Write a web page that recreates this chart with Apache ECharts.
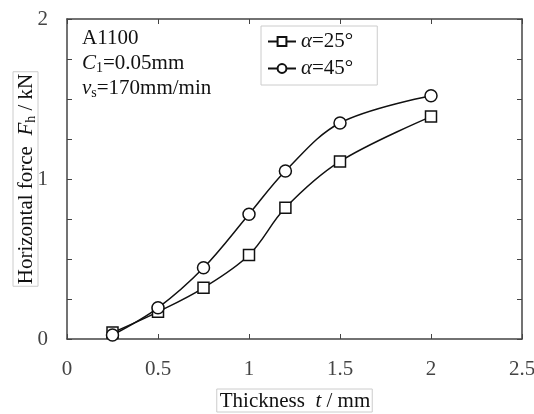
<!DOCTYPE html>
<html><head><meta charset="utf-8">
<script src="https://cdn.jsdelivr.net/npm/echarts@6/dist/echarts.min.js"></script>
<style>html,body{margin:0;padding:0;background:#fff}#c{width:534px;height:414px}</style>
</head><body><div id="c"></div>
<script>
var thickness = [0.25, 0.5, 0.75, 1.0, 1.2, 1.5, 2.0];
var force25 = [0.04, 0.17, 0.32, 0.525, 0.82, 1.11, 1.39];
var force45 = [0.025, 0.195, 0.445, 0.78, 1.05, 1.35, 1.52];
var xTicks = [0, 0.5, 1, 1.5, 2, 2.5];
var yTicks = [0, 1, 2];

function pairs(xs, ys){ return xs.map(function(x,i){return [x, ys[i]];}); }
var serif = 'Liberation Serif';
var F = 21;
var chart = echarts.init(document.getElementById('c'));
var axisCommon = {
  axisLine:{show:true, onZero:false, lineStyle:{color:'#444', width:1.5}},
  axisTick:{show:true, inside:true, length:5, lineStyle:{color:'#444'}},
  splitLine:{show:false}
};
chart.setOption({
  animation:false,
  grid:{left:67, right:12, top:19, bottom:75, containLabel:false, outerBoundsMode:'none'},
  legend:{
    orient:'vertical', left:261, top:26, itemWidth:28, itemHeight:11, itemGap:6,
    padding:[5,24,6,6], backgroundColor:'#fff', borderColor:'#ccc', borderWidth:1,
    textStyle:{fontFamily:serif, fontSize:F, color:'#111',
      rich:{i:{fontFamily:serif, fontStyle:'italic', fontSize:F, color:'#111'}}},
    formatter:function(n){return '{i|α}' + n.replace('α','');},
    data:['α=25°','α=45°']
  },
  xAxis:[Object.assign({type:'value', min:0, max:2.5, interval:0.5, position:'bottom',
    name:'Thickness  {i|t} / mm', nameLocation:'middle', nameGap:50, nameMoveOverlap:false,
    nameTextStyle:{fontFamily:serif, fontSize:F, color:'#111', borderColor:'#ccc', borderWidth:1, padding:[2,2,0,3],
      rich:{i:{fontFamily:serif, fontStyle:'italic', fontSize:F, color:'#111'}}},
    axisLabel:{fontFamily:serif, fontSize:F, color:'#444', margin:20,
      formatter:function(v){return xTicks.indexOf(v)>=0 ? String(v) : '';}}
  }, axisCommon),
  Object.assign({type:'value', min:0, max:2.5, interval:0.5, position:'top', axisLabel:{show:false}}, axisCommon)],
  yAxis:[Object.assign({type:'value', min:0, max:2, interval:0.25, position:'left',
    name:'Horizontal force  {i|F}{s|h} / kN', nameLocation:'middle', nameGap:29, nameMoveOverlap:false,
    nameTextStyle:{fontFamily:serif, fontSize:F, color:'#111', borderColor:'#ccc', borderWidth:1, padding:[2,2,0,2],
      rich:{i:{fontFamily:serif, fontStyle:'italic', fontSize:F, color:'#111'},
            s:{fontFamily:serif, fontSize:14, color:'#111', padding:[9,0,0,0]}}},
    axisLabel:{fontFamily:serif, fontSize:F, color:'#444', margin:19,
      formatter:function(v){return yTicks.indexOf(v)>=0 ? String(v) : '';}}
  }, axisCommon),
  Object.assign({type:'value', min:0, max:2, interval:0.25, position:'right', axisLabel:{show:false}}, axisCommon)],
  graphic:[{type:'text', left:82, top:26, style:{
    text:'A1100\n{i|C}{s|1}=0.05mm\n{i|v}{s|s}=170mm/min',
    fontFamily:serif, fontSize:F, lineHeight:25, fill:'#111',
    rich:{i:{fontFamily:serif, fontStyle:'italic', fontSize:F, lineHeight:25, fill:'#111'},
          s:{fontFamily:serif, fontSize:14, lineHeight:25, fill:'#111', padding:[10,0,0,0]}}}}],
  series:[
    {name:'α=25°', type:'line', smooth:0.35, data:pairs(thickness, force25), symbol:'rect', symbolSize:11,
     lineStyle:{color:'#111', width:1.5}, itemStyle:{color:'#fff', borderColor:'#111', borderWidth:1.5}, z:3},
    {name:'α=45°', type:'line', smooth:0.35, data:pairs(thickness, force45), symbol:'circle', symbolSize:12,
     lineStyle:{color:'#111', width:1.5}, itemStyle:{color:'#fff', borderColor:'#111', borderWidth:1.5}, z:4}
  ]
});
</script></body></html>
